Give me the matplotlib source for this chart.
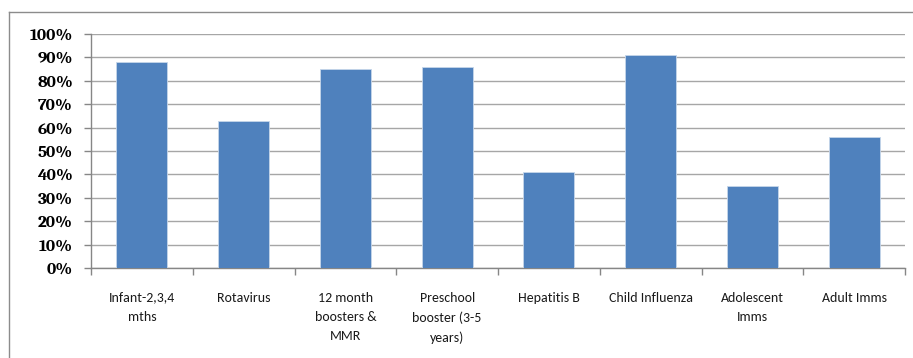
import numpy as np
import matplotlib
matplotlib.use('Agg')
from matplotlib import pyplot as plt
from matplotlib import font_manager as fm
from matplotlib.ticker import PercentFormatter, FixedLocator, NullFormatter

#values
categories = ['Infant-2,3,4\nmths', 'Rotavirus', '12 month\nboosters &\nMMR',
              'Preschool\nbooster (3-5\nyears)', 'Hepatitis B', 'Child Influenza',
              'Adolescent\nImms', 'Adult Imms']
uptake = [88, 63, 85, 86, 41, 91, 35, 56]
yticks = list(range(0, 101, 10))

def pick(names):
    for n in names:
        try:
            fm.findfont(n, fallback_to_default=False)
            return n
        except Exception:
            pass
    return 'DejaVu Sans'

label_font = pick(['Carlito', 'Liberation Sans Narrow', 'Liberation Sans'])
ytick_font = pick(['Caladea', 'Liberation Serif', 'DejaVu Serif'])

fig = plt.figure(figsize=(9.13, 3.58), dpi=100)
ax = fig.add_axes([91/913, 1 - 268/358, (905-91)/913, (268-34)/358])

x = np.arange(len(categories))
ax.bar(x, uptake, width=0.5, color='#4F81BD', edgecolor='#C6D6EA', linewidth=0.6, zorder=3)

ax.set_xlim(-0.5, len(categories) - 0.5)
ax.set_ylim(0, 100)
ax.set_yticks(yticks)
ax.yaxis.set_major_formatter(PercentFormatter(decimals=0))
ax.grid(axis='y', color='#A6A6A6', linewidth=1.0, zorder=0)

#category labels centred, tick marks between categories
ax.set_xticks(x)
ax.set_xticklabels(categories, fontsize=10, linespacing=1.72,
                   family=[label_font, 'DejaVu Sans'], color='#1A1A1A')
ax.tick_params(axis='x', length=0, pad=17)
ax.xaxis.set_minor_locator(FixedLocator(np.arange(-0.5, len(categories), 1)))
ax.xaxis.set_minor_formatter(NullFormatter())
ax.tick_params(axis='x', which='minor', length=5, color='#868686', width=1)

ax.tick_params(axis='y', length=5, color='#868686', width=1, pad=8)
for lab in ax.get_yticklabels():
    lab.set_fontweight('bold')
    lab.set_fontsize(12.5)
    lab.set_family([ytick_font, 'DejaVu Sans'])

for side in ['top', 'right']:
    ax.spines[side].set_visible(False)
for side in ['left', 'bottom']:
    ax.spines[side].set_color('#868686')
    ax.spines[side].set_linewidth(1)

#outer chart border (left and top visible in the reference)
fig.add_artist(plt.Line2D([8.5/913, 8.5/913], [0, 1 - 12/358], color='#8C8C8C', linewidth=1))
fig.add_artist(plt.Line2D([8.5/913, 1], [1 - 12/358, 1 - 12/358], color='#8C8C8C', linewidth=1))

fig.savefig('out.png', dpi=100)
